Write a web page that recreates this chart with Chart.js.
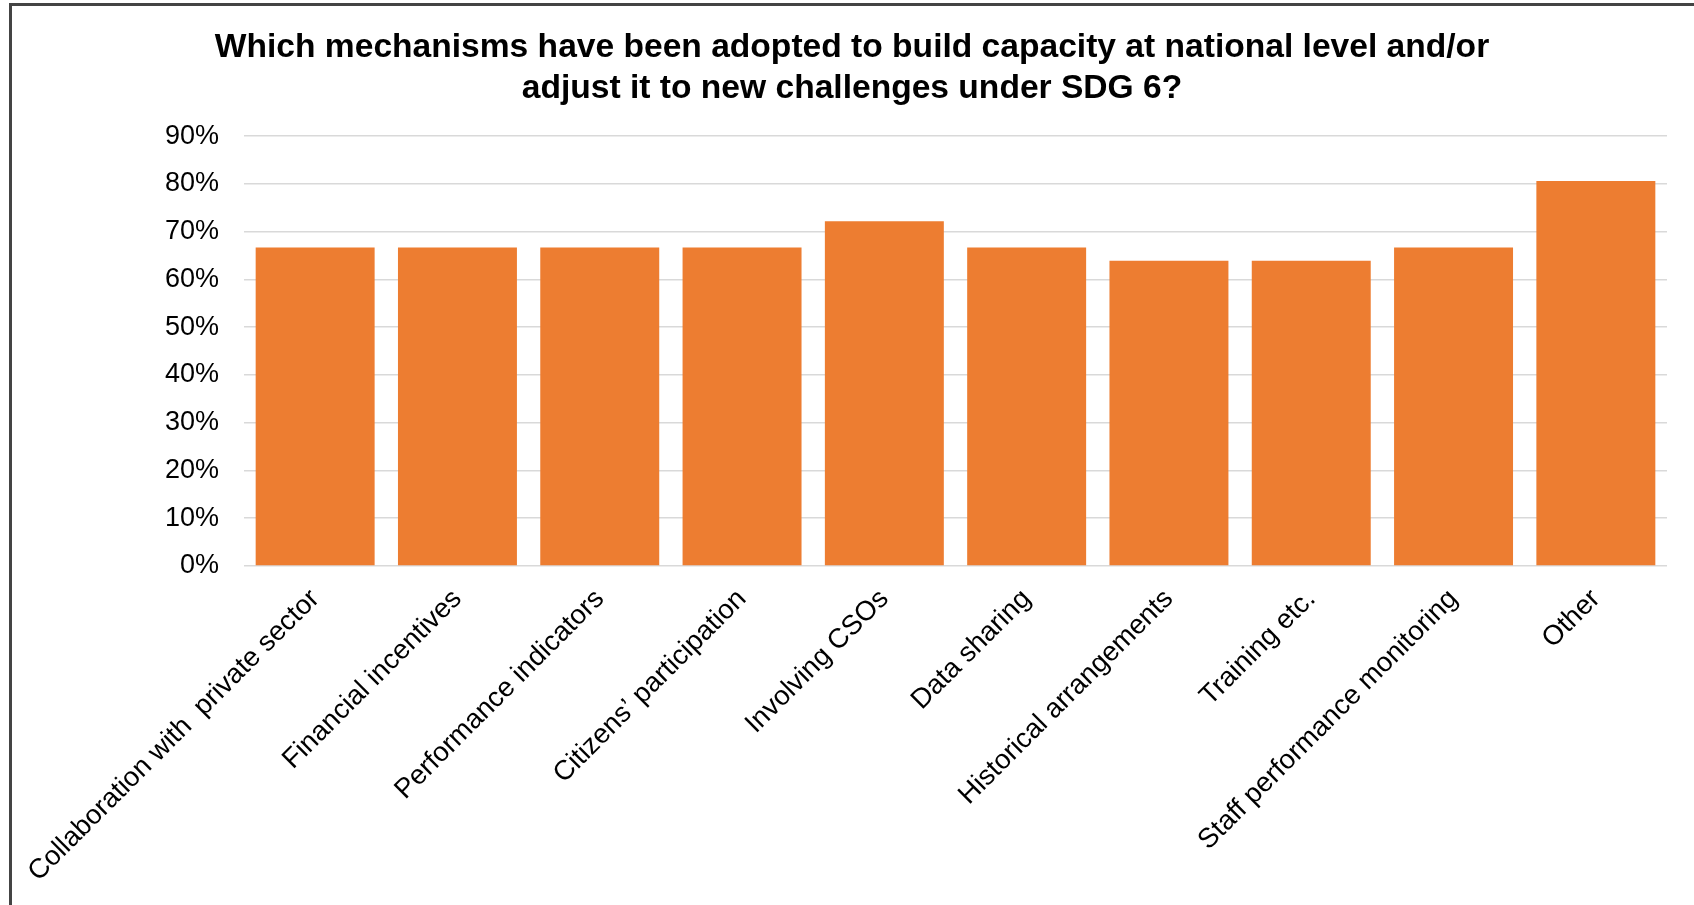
<!DOCTYPE html>
<html>
<head>
<meta charset="utf-8">
<script src="https://cdn.jsdelivr.net/npm/chart.js@4"></script>
<style>
  body { margin: 0; background: #fff; }
  #wrap { position: relative; width: 1694px; height: 905px; }
  #frame { position: absolute; left: 9px; top: 3px; right: 0; bottom: 0;
           border-top: 3px solid #444; border-left: 3px solid #444; pointer-events: none; }
</style>
</head>
<body>
<div id="wrap">
  <canvas id="barChart"></canvas>
  <div id="frame"></div>
</div>
<script>
// categories along the x axis
const categories = ['Collaboration with  private sector', 'Financial incentives', 'Performance indicators',
    'Citizens\u2019 participation', 'Involving CSOs', 'Data sharing', 'Historical arrangements',
    'Training etc.', 'Staff performance monitoring', 'Other'];

// share of respondents, in percent
const shares = [66.7, 66.7, 66.7, 66.7, 72.2, 66.7, 63.9, 63.9, 66.7, 80.6];

// y axis ticks
const yTicks = [0, 10, 20, 30, 40, 50, 60, 70, 80, 90];

const titleLines = ['Which mechanisms have been adopted to build capacity at national level and/or',
    'adjust it to new challenges under SDG 6?'];

const fontFamily = '"Liberation Sans", Arial, sans-serif';

const ctx = document.getElementById('barChart').getContext('2d');

const data = {
    labels: categories,
    datasets: [{
        data: shares,
        backgroundColor: '#ED7D31',
        barPercentage: 0.836,
        categoryPercentage: 1,
        yAxisID: 'y'
    }]
};

const config = {
    type: 'bar',
    data: data,
    options: {
        responsive: true,
        maintainAspectRatio: false,
        animation: false,
        layout: { padding: { left: 10, right: 0, top: 0, bottom: 0 } },
        plugins: {
            legend: { display: false },
            tooltip: { enabled: false },
            title: {
                display: true,
                text: titleLines,
                color: '#000',
                font: { family: fontFamily, size: 33.6, weight: 'bold', lineHeight: 1.2 },
                padding: { top: 28, bottom: 27.5 }
            }
        },
        scales: {
            x: {
                grid: { display: false, drawTicks: false },
                border: { display: false },
                ticks: {
                    color: '#000',
                    font: { family: fontFamily, size: 27.5 },
                    minRotation: 45,
                    maxRotation: 45,
                    autoSkip: false,
                    padding: 17
                },
                afterFit: (scale) => { scale.height = 339; }
            },
            y: {
                min: 0,
                max: 90,
                afterBuildTicks: (scale) => { scale.ticks = yTicks.map(v => ({ value: v })); },
                grid: { color: '#D9D9D9', lineWidth: 1.5, drawTicks: false },
                border: { display: false },
                ticks: {
                    color: '#000',
                    font: { family: fontFamily, size: 27 },
                    padding: 25,
                    callback: (v) => v + '%'
                },
                afterFit: (scale) => { scale.width = 234; }
            },
            // empty spacer on the right so the plot ends where the original does
            yRight: {
                position: 'right',
                grid: { display: false, drawTicks: false },
                border: { display: false },
                ticks: { display: false },
                afterFit: (scale) => { scale.width = 27; }
            }
        }
    }
};

const myChart = new Chart(ctx, config);
</script>
</body>
</html>
